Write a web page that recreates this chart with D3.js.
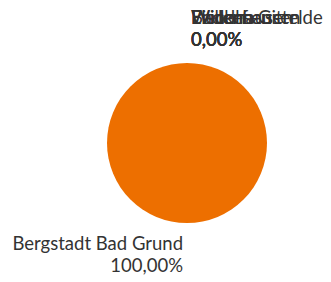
<!DOCTYPE html>
<html><head><meta charset="utf-8">
<script src="https://cdn.jsdelivr.net/npm/d3@7"></script>
<style>body{margin:0;background:#fff}</style>
</head><body>
<svg id="c" width="331" height="282"></svg>
<script>
const categories = ["Bergstadt Bad Grund", "Badenhausen", "Eisdorf", "Windhausen", "Willensen", "Flecken Gittelde"];
const values = [100, 0, 0, 0, 0, 0];
const colors = ["#ed6f00", "#ed6f00", "#ed6f00", "#ed6f00", "#ed6f00", "#ed6f00"];

const svg = d3.select("#c");
const cx = 187, cy = 143, r = 80;
const g = svg.append("g").attr("transform", `translate(${cx},${cy})`);
const data = categories.map((c, i) => ({name: c, value: values[i], color: colors[i]}));
const pie = d3.pie().value(d => d.value).sort(null);
const arcs = pie(data);
const arc = d3.arc().innerRadius(0).outerRadius(r);
g.selectAll("path").data(arcs).join("path")
  .attr("d", arc).attr("fill", d => d.data.color);

const total = d3.sum(values);
const fmt = v => (v / total * 100).toFixed(2).replace(".", ",") + "%";
const outer = d3.arc().innerRadius(r).outerRadius(r);
const lab = g.append("g").attr("font-family", "Lato, sans-serif").attr("font-size", 18.5).attr("fill", "#333");
arcs.forEach(a => {
  const mid = (a.startAngle + a.endAngle) / 2;
  const [x, y] = outer.centroid(a);
  const bottom = Math.cos(mid) < 0;
  const anchor = bottom ? "end" : "start";
  const tx = bottom ? x - 4 : x + 4;
  const y1 = bottom ? y + 27 : y - 39;
  const t = lab.append("text").attr("text-anchor", anchor).attr("x", tx).attr("y", y1);
  t.append("tspan").attr("x", tx).text(a.data.name);
  t.append("tspan").attr("x", tx).attr("dy", 22).text(fmt(a.data.value));
});
</script>
</body></html>
